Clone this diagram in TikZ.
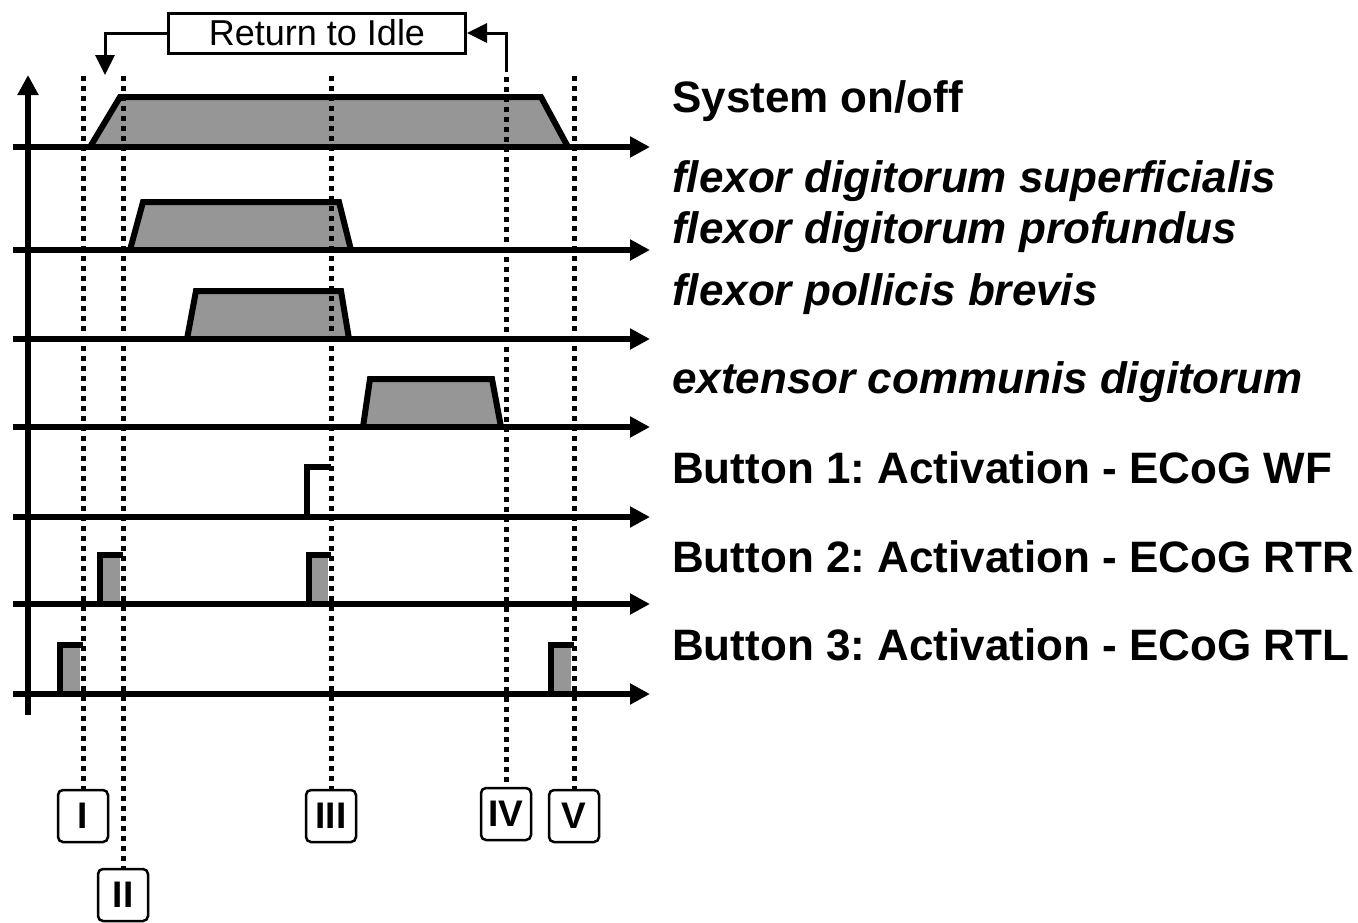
\documentclass[tikz,border=0pt]{standalone}
\usepackage{fontspec}
\setmainfont{Liberation Sans}
\usetikzlibrary{arrows.meta}
\definecolor{fillgray}{RGB}{150,150,150}
\frenchspacing
\begin{document}
\begin{tikzpicture}[x=1pt,y=-1pt,
  axis/.style={line width=6pt, -{Triangle[length=20pt,width=20pt]}},
  sigfill/.style={fill=fillgray},
  sigline/.style={line width=6pt, line join=miter},
  dotline/.style={line width=5pt, dash pattern=on 5pt off 5pt},
  lbl/.style={anchor=base west, inner sep=0pt, font=\fontsize{44}{50}\selectfont\bfseries},
  ilbl/.style={lbl, font=\fontsize{44}{50}\selectfont\bfseries\itshape},
  romanbox/.style={draw, line width=2.5pt, rounded corners=5pt, minimum width=50pt, minimum height=52pt, inner sep=0pt, fill=white, font=\fontsize{37}{40}\selectfont\bfseries},
  idlebox/.style={draw, line width=3pt, minimum width=297pt, minimum height=40pt, inner sep=0pt, font=\fontsize{36}{40}\selectfont},
  retarrow/.style={line width=3pt, -{Triangle[length=20pt,width=19pt]}}
]
\useasboundingbox (0,0) rectangle (1358,922);

% fills of signals
\fill[sigfill] (90,147) -- (120,97) -- (541,97) -- (568,147) -- cycle;
\fill[sigfill] (130,250) -- (143,202) -- (339,202) -- (351,250) -- cycle;
\fill[sigfill] (187,339) -- (196,291) -- (341,291) -- (349,339) -- cycle;
\fill[sigfill] (363,427) -- (370,379) -- (492,379) -- (501,427) -- cycle;
\fill[white] (308,517) rectangle (328,467);
\fill[sigfill] (100,604) rectangle (120,555);
\fill[sigfill] (309,604) rectangle (328,555);
\fill[sigfill] (60,694) rectangle (80,645);
\fill[sigfill] (551,694) rectangle (571,645);

% roman numeral boxes
\node[romanbox] (bI) at (83,816) {I};
\node[romanbox] (bII) at (123,895) {II};
\node[romanbox] (bIII) at (331,816) {III};
\node[romanbox] (bIV) at (506,814) {IV};
\node[romanbox] (bV) at (574,816) {V};

% dotted event lines
\coordinate (tI) at (83,76);
\coordinate (tII) at (123,76);
\coordinate (tIII) at (331,76);
\coordinate (tIV) at (506,77);
\coordinate (tV) at (574,76);
\draw[dotline] (tI) -- (bI.north);
\draw[dotline] (tII) -- (bII.north);
\draw[dotline] (tIII) -- (bIII.north);
\draw[dotline] (tIV) -- (bIV.north);
\draw[dotline] (tV) -- (bV.north);

% axes
\draw[axis] (28,715) -- (28,75);
\foreach \yy in {147,250,339,427,517,604,694}
  \draw[axis] (13,\yy) -- (650,\yy);

% signal outlines
\draw[sigline] (90,147) -- (120,97) -- (541,97) -- (568,147);
\draw[sigline] (130,250) -- (143,202) -- (339,202) -- (351,250);
\draw[sigline] (187,339) -- (196,291) -- (341,291) -- (349,339);
\draw[sigline] (363,427) -- (370,379) -- (492,379) -- (501,427);
\draw[sigline] (307,517) -- (307,467) -- (331,467);
\draw[sigline] (100,604) -- (100,555) -- (123,555);
\draw[sigline] (309,604) -- (309,555) -- (331,555);
\draw[sigline] (60,694) -- (60,645) -- (83,645);
\draw[sigline] (551,694) -- (551,645) -- (574,645);

% Return to Idle
\node[idlebox] (idle) at (317,33) {Return to Idle};
\coordinate (lt) at (105,75);
\coordinate (rb) at (506,72);
\draw[retarrow] (idle.west) -| (lt);
\draw[retarrow] (rb) |- (idle.east);

% labels
\node[lbl] (l1) at (672,112) {System on/off};
\node[ilbl] (l2) at (672,192) {flexor digitorum superficialis};
\node[ilbl] (l3) at (672,243) {flexor digitorum profundus};
\node[ilbl] (l4) at (672,305) {flexor pollicis brevis};
\node[ilbl] (l5) at (672,393) {extensor communis digitorum};
\node[lbl] (l6) at (672,483) {Button 1: Activation - ECoG WF};
\node[lbl] (l7) at (672,572) {Button 2: Activation - ECoG RTR};
\node[lbl] (l8) at (672,660) {Button 3: Activation - ECoG RTL};
\end{tikzpicture}
\end{document}
